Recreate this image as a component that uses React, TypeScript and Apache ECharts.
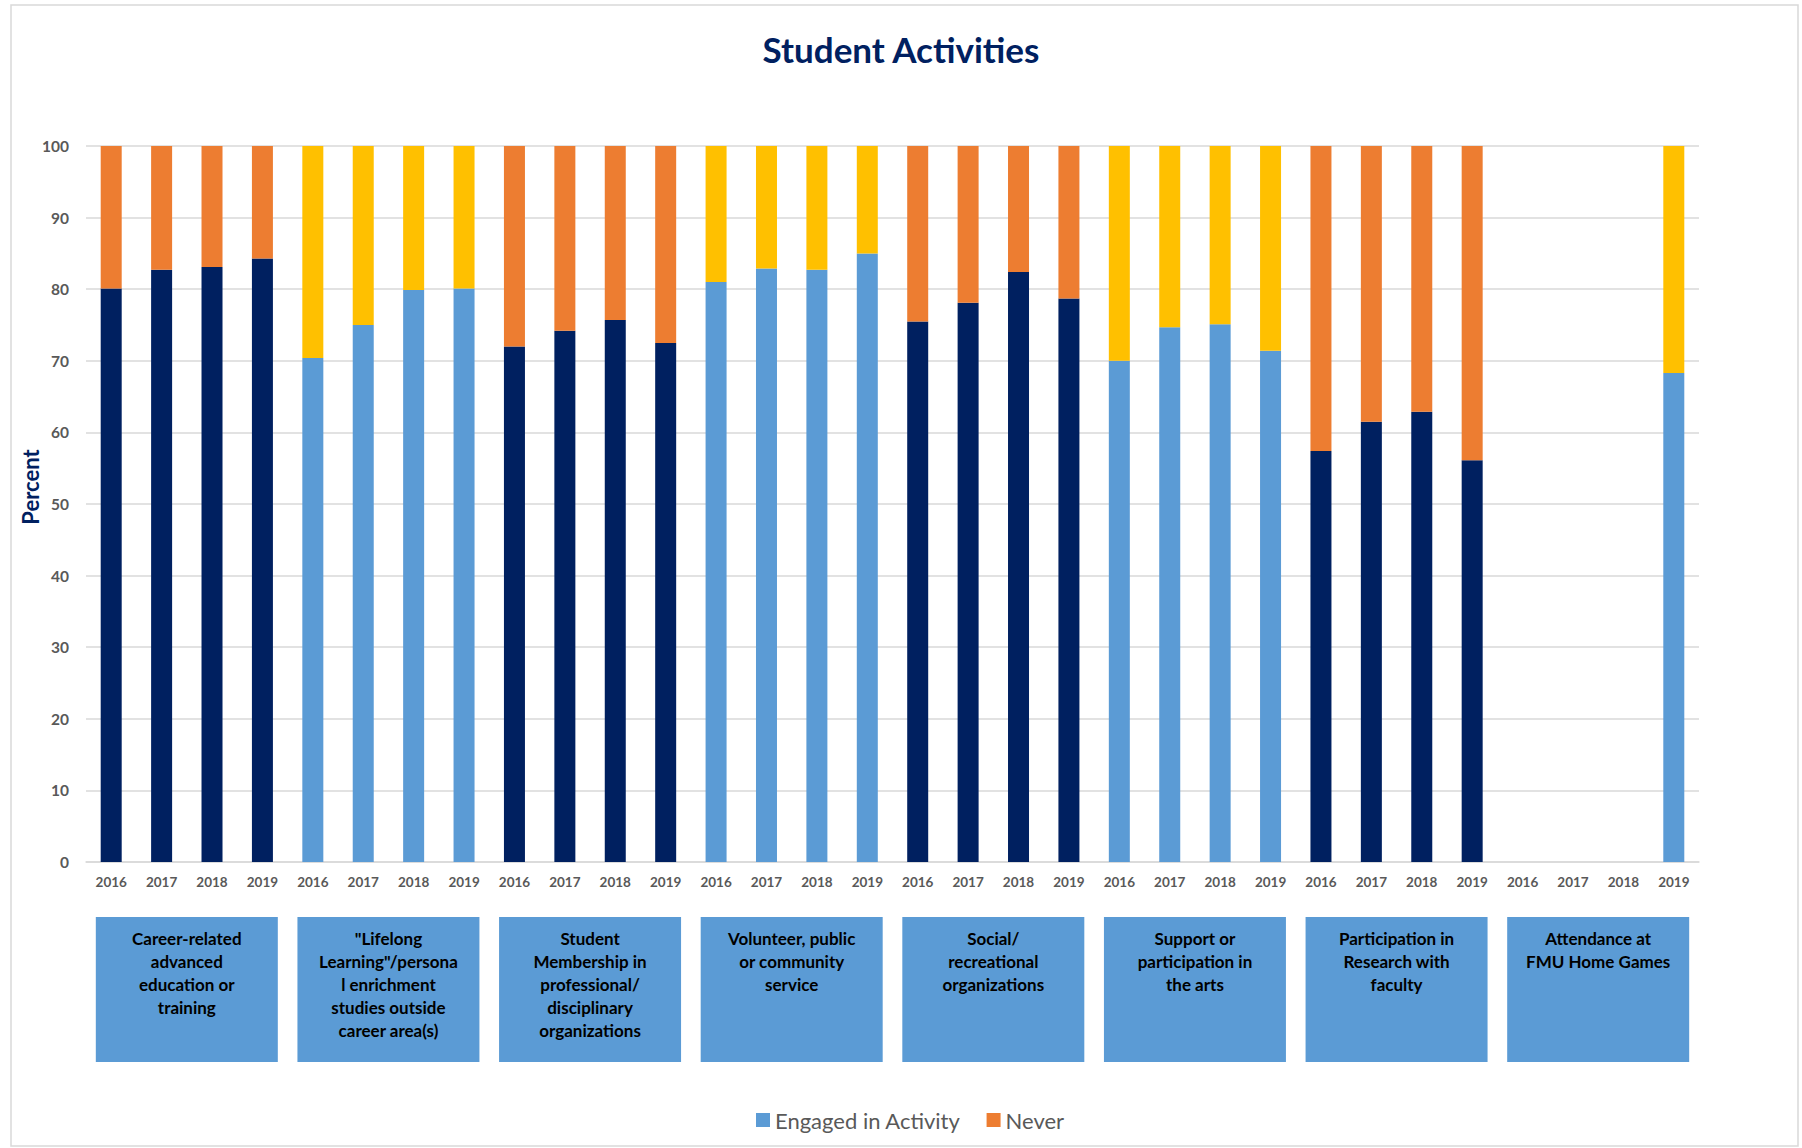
import React, { useEffect, useRef } from 'react';
import * as echarts from 'echarts';

const years = ['2016', '2017', '2018', '2019'];
const activities = [
  'Career-related\nadvanced\neducation or\ntraining',
  '"Lifelong\nLearning"/persona\nl enrichment\nstudies outside\ncareer area(s)',
  'Student\nMembership in\nprofessional/\ndisciplinary\norganizations',
  'Volunteer, public\nor community\nservice',
  'Social/\nrecreational\norganizations',
  'Support or\nparticipation in\nthe arts',
  'Participation in\nResearch with\nfaculty',
  'Attendance at\nFMU Home Games',
];

const careerEngaged = [80.1, 82.7, 83.1, 84.3];
const careerNever = [19.9, 17.3, 16.9, 15.7];
const lifelongEngaged = [70.4, 75.0, 79.9, 80.1];
const lifelongNever = [29.6, 25.0, 20.1, 19.9];
const membershipEngaged = [72.0, 74.2, 75.7, 72.5];
const membershipNever = [28.0, 25.8, 24.3, 27.5];
const volunteerEngaged = [81.0, 82.9, 82.7, 85.0];
const volunteerNever = [19.0, 17.1, 17.3, 15.0];
const socialEngaged = [75.5, 78.1, 82.4, 78.7];
const socialNever = [24.5, 21.9, 17.6, 21.3];
const artsEngaged = [70.0, 74.7, 75.1, 71.4];
const artsNever = [30.0, 25.3, 24.9, 28.6];
const researchEngaged = [57.4, 61.5, 62.9, 56.1];
const researchNever = [42.6, 38.5, 37.1, 43.9];
const gamesEngaged = [null, null, null, 68.3];
const gamesNever = [null, null, null, 31.7];

const yTicks = [0, 10, 20, 30, 40, 50, 60, 70, 80, 90, 100];

const engagedByGroup = [
  careerEngaged, lifelongEngaged, membershipEngaged, volunteerEngaged,
  socialEngaged, artsEngaged, researchEngaged, gamesEngaged,
];
const neverByGroup = [
  careerNever, lifelongNever, membershipNever, volunteerNever,
  socialNever, artsNever, researchNever, gamesNever,
];

const NAVY = '#002060';
const LIGHT_BLUE = '#5B9BD5';
const ORANGE = '#ED7D31';
const YELLOW = '#FFC000';
const GRID_GRAY = '#D9D9D9';
const LABEL_GRAY = '#595959';
const FONT = 'Lato, "Open Sans", sans-serif';

export default function App() {
  const ref = useRef<HTMLDivElement>(null);

  useEffect(() => {
    if (!ref.current) return;
    const chart = echarts.init(ref.current, undefined, { renderer: 'svg' });

    const categories = activities.flatMap((_, g) => years.map((y) => `${g}|${y}`));

    const engagedData = engagedByGroup.flatMap((arr, g) =>
      arr.map((v) => ({
        value: v == null ? '-' : v,
        itemStyle: { color: g % 2 === 0 ? NAVY : LIGHT_BLUE },
      }))
    );
    const neverData = neverByGroup.flatMap((arr, g) =>
      arr.map((v) => ({
        value: v == null ? '-' : v,
        itemStyle: { color: g % 2 === 0 ? ORANGE : YELLOW },
      }))
    );

    const option: any = {
      animation: false,
      backgroundColor: '#ffffff',
      textStyle: { fontFamily: FONT },
      title: {
        text: 'Student Activities',
        left: 'center',
        top: 26,
        textStyle: { fontFamily: FONT, fontSize: 35, fontWeight: 'bold', color: NAVY },
      },
      legend: {
        data: ['Engaged in Activity', 'Never'],
        left: 751,
        top: 1104,
        itemWidth: 14,
        itemHeight: 14,
        itemGap: 26,
        icon: 'rect',
        textStyle: { fontFamily: FONT, fontSize: 22, color: LABEL_GRAY },
      },
      grid: { left: 86, right: 103, top: 146, bottom: 286 },
      xAxis: [
        {
          type: 'category',
          data: categories,
          position: 'bottom',
          axisLine: { show: true, lineStyle: { color: GRID_GRAY, width: 1.5 } },
          axisTick: { show: false },
          axisLabel: {
            interval: 0,
            margin: 13,
            fontFamily: FONT,
            fontSize: 13.5,
            fontWeight: 'bold',
            color: LABEL_GRAY,
            formatter: (v: string) => v.split('|')[1],
          },
        },
        {
          type: 'category',
          data: activities,
          position: 'bottom',
          axisLine: { show: false },
          axisTick: { show: false },
          splitLine: { show: false },
          axisLabel: {
            interval: 0,
            margin: 55,
            fontFamily: FONT,
            fontSize: 17,
            fontWeight: 'bold',
            color: '#000000',
            lineHeight: 23,
            backgroundColor: LIGHT_BLUE,
            width: 182,
            height: 135,
            padding: [10, 0, 0, 0],
            align: 'center',
            verticalAlign: 'top',
          },
        },
      ],
      yAxis: {
        type: 'value',
        min: yTicks[0],
        max: yTicks[yTicks.length - 1],
        interval: 10,
        axisLine: { show: false },
        axisTick: { show: false },
        splitLine: { show: true, lineStyle: { color: GRID_GRAY, width: 1.5 } },
        axisLabel: {
          margin: 17,
          fontFamily: FONT,
          fontSize: 15.5,
          fontWeight: 'bold',
          color: LABEL_GRAY,
        },
      },
      graphic: [
        {
          type: 'rect',
          shape: { x: 11, y: 5, width: 1787, height: 1141 },
          style: { fill: 'none', stroke: GRID_GRAY, lineWidth: 1.5 },
          silent: true,
          z: -1,
        },
        {
          type: 'text',
          x: 30,
          y: 487,
          rotation: Math.PI / 2,
          style: {
            text: 'Percent',
            font: `bold 22px ${FONT}`,
            fill: NAVY,
            align: 'center',
            verticalAlign: 'middle',
          },
        },
      ],
      series: [
        {
          name: 'Engaged in Activity',
          type: 'bar',
          stack: 'total',
          xAxisIndex: 0,
          barWidth: 21,
          itemStyle: { color: LIGHT_BLUE },
          data: engagedData,
        },
        {
          name: 'Never',
          type: 'bar',
          stack: 'total',
          xAxisIndex: 0,
          barWidth: 21,
          itemStyle: { color: ORANGE },
          data: neverData,
        },
      ],
    };

    chart.setOption(option);
    return () => chart.dispose();
  }, []);

  return (
    <div
      ref={ref}
      style={{ position: 'absolute', left: 0, top: 0, width: 1802, height: 1148 }}
    />
  );
}
